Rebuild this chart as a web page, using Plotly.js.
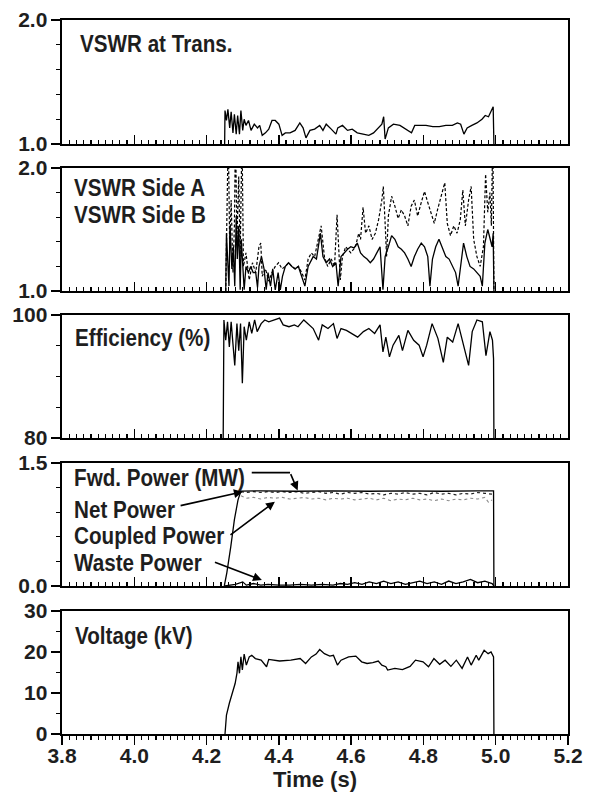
<!DOCTYPE html>
<html><head><meta charset="utf-8">
<script src="https://cdn.plot.ly/plotly-3.0.1.min.js"></script>
<style>
html,body{margin:0;padding:0;background:#fff}
#chart{width:595px;height:809px}
#chart .annotation-text{transform-box:fill-box;transform-origin:0 50%;transform:scaleX(0.86)}
</style>
</head><body><div id="chart"></div>
<script>
// ---- Panel 1: VSWR at transmitter
const tTrans = [4.250,4.251,4.255,4.259,4.264,4.268,4.273,4.277,4.282,4.286,4.291,4.295,4.300,4.304,4.309,4.316,4.323,4.332,4.341,4.347,4.354,4.363,4.372,4.381,4.390,4.400,4.409,4.418,4.431,4.445,4.458,4.467,4.475,4.486,4.499,4.513,4.522,4.531,4.545,4.558,4.563,4.576,4.590,4.603,4.617,4.631,4.649,4.662,4.676,4.685,4.690,4.694,4.703,4.717,4.735,4.753,4.767,4.776,4.790,4.807,4.826,4.844,4.862,4.880,4.894,4.903,4.912,4.921,4.934,4.948,4.962,4.971,4.980,4.989,4.993,4.995];
const vswrTrans = [1.00,1.27,1.19,1.28,1.13,1.26,1.09,1.24,1.08,1.23,1.08,1.27,1.11,1.20,1.15,1.19,1.11,1.16,1.13,1.15,1.07,1.09,1.12,1.19,1.19,1.16,1.07,1.09,1.09,1.11,1.17,1.13,1.05,1.11,1.12,1.15,1.11,1.16,1.12,1.08,1.13,1.15,1.11,1.12,1.09,1.08,1.07,1.09,1.13,1.16,1.22,1.04,1.13,1.16,1.15,1.12,1.09,1.15,1.15,1.15,1.14,1.14,1.15,1.15,1.17,1.16,1.08,1.13,1.15,1.17,1.20,1.23,1.22,1.27,1.30,1.00];

// ---- Panel 2: VSWR side A (dashed) and side B (solid)
const tSideA = [4.253,4.256,4.260,4.264,4.268,4.273,4.277,4.280,4.284,4.289,4.293,4.298,4.302,4.309,4.318,4.327,4.336,4.345,4.350,4.354,4.363,4.372,4.381,4.390,4.399,4.409,4.418,4.427,4.436,4.445,4.454,4.463,4.472,4.481,4.490,4.499,4.508,4.517,4.526,4.535,4.545,4.554,4.561,4.564,4.570,4.576,4.585,4.599,4.612,4.621,4.626,4.633,4.640,4.649,4.658,4.667,4.676,4.685,4.689,4.694,4.698,4.703,4.712,4.721,4.730,4.739,4.748,4.757,4.766,4.775,4.784,4.794,4.803,4.812,4.821,4.830,4.839,4.848,4.859,4.866,4.875,4.884,4.893,4.902,4.909,4.916,4.925,4.932,4.939,4.948,4.957,4.966,4.972,4.978,4.984,4.988,4.992,4.995];
const vswrSideA = [1.00,1.53,2.30,1.34,1.74,1.15,1.53,2.30,1.42,1.93,1.28,2.30,1.20,1.31,1.09,1.23,1.15,1.36,1.39,1.12,1.18,1.08,1.15,1.20,1.23,1.18,1.20,1.23,1.20,1.18,1.20,1.15,1.09,1.26,1.31,1.28,1.42,1.53,1.28,1.20,1.26,1.20,1.62,1.42,1.09,1.28,1.36,1.31,1.36,1.47,1.42,1.68,1.47,1.53,1.42,1.47,1.58,1.74,1.85,1.55,1.28,1.61,1.77,1.69,1.59,1.66,1.61,1.53,1.69,1.74,1.61,1.72,1.81,1.72,1.64,1.55,1.66,1.77,1.88,1.55,1.45,1.53,1.47,1.58,1.82,1.53,1.74,1.85,1.42,1.28,1.20,1.36,1.95,1.64,1.80,1.53,2.30,1.00];
const tSideB = [4.253,4.255,4.258,4.262,4.265,4.270,4.274,4.278,4.282,4.285,4.289,4.293,4.296,4.300,4.304,4.309,4.316,4.322,4.329,4.336,4.341,4.345,4.352,4.359,4.365,4.370,4.377,4.383,4.390,4.398,4.404,4.410,4.418,4.427,4.436,4.445,4.454,4.463,4.472,4.481,4.495,4.504,4.515,4.522,4.531,4.540,4.549,4.558,4.564,4.572,4.581,4.590,4.599,4.608,4.617,4.626,4.635,4.644,4.653,4.662,4.671,4.680,4.688,4.694,4.703,4.712,4.721,4.730,4.739,4.748,4.757,4.766,4.775,4.784,4.794,4.803,4.812,4.818,4.825,4.834,4.843,4.852,4.862,4.871,4.880,4.889,4.896,4.905,4.911,4.920,4.929,4.939,4.948,4.957,4.963,4.970,4.978,4.984,4.990,4.993,4.995];
const vswrSideB = [1.00,1.47,1.28,1.04,1.53,1.18,1.36,1.04,1.61,1.26,1.53,1.01,1.42,1.23,1.01,1.20,1.15,1.20,1.15,1.15,1.03,1.20,1.28,1.18,1.01,1.15,1.04,1.18,1.01,1.15,1.01,1.12,1.20,1.23,1.20,1.18,1.20,1.12,1.04,1.20,1.28,1.26,1.47,1.28,1.23,1.26,1.20,1.23,1.04,1.28,1.31,1.34,1.36,1.35,1.39,1.31,1.28,1.26,1.23,1.26,1.31,1.36,1.01,1.28,1.36,1.45,1.42,1.36,1.34,1.31,1.26,1.20,1.28,1.34,1.39,1.36,1.28,1.04,1.26,1.36,1.42,1.36,1.28,1.26,1.20,1.15,1.04,1.28,1.39,1.28,1.20,1.18,1.15,1.12,1.04,1.39,1.50,1.42,1.36,1.47,1.00];

// ---- Panel 3: Efficiency (%)
const tEff = [4.246,4.247,4.248,4.253,4.258,4.263,4.268,4.273,4.278,4.284,4.289,4.294,4.299,4.304,4.310,4.318,4.325,4.333,4.340,4.351,4.361,4.372,4.387,4.402,4.412,4.428,4.443,4.453,4.469,4.479,4.495,4.510,4.520,4.536,4.551,4.561,4.572,4.587,4.603,4.618,4.634,4.649,4.665,4.680,4.688,4.696,4.706,4.716,4.732,4.742,4.757,4.773,4.788,4.799,4.809,4.824,4.840,4.855,4.866,4.881,4.896,4.912,4.925,4.935,4.948,4.963,4.973,4.984,4.991,4.994,4.995];
const efficiency = [80,99.0,99.2,95.9,98.9,94.8,98.9,95.3,91.8,98.6,94.2,98.6,88.9,98.1,95.9,98.9,97.0,99.2,97.3,98.6,99.2,98.9,99.2,99.5,98.4,98.1,98.4,98.1,99.2,98.6,97.8,95.9,98.4,97.8,98.6,96.2,97.8,97.5,97.0,96.4,97.3,97.8,97.0,98.4,94.0,96.4,93.2,95.1,96.7,94.2,97.5,95.9,95.1,93.2,95.1,98.6,96.2,92.3,96.4,95.6,98.6,95.1,91.8,97.3,99.2,98.9,93.4,97.3,95.9,92.9,80];

// ---- Panel 4: Powers (MW)
const tFwd = [4.249,4.256,4.267,4.277,4.287,4.295,4.350,4.450,4.550,4.650,4.750,4.850,4.950,4.994,4.995];
const fwdPower = [0,0.16,0.48,0.81,1.05,1.157,1.16,1.155,1.16,1.155,1.16,1.155,1.16,1.16,0];
const tNet = [4.295,4.31,4.33,4.35,4.37,4.39,4.41,4.43,4.45,4.47,4.49,4.51,4.53,4.55,4.57,4.59,4.61,4.63,4.65,4.67,4.69,4.71,4.73,4.75,4.77,4.79,4.81,4.83,4.85,4.87,4.89,4.91,4.93,4.95,4.97,4.99];
const netPower = [1.15,1.14,1.15,1.14,1.15,1.14,1.15,1.14,1.15,1.13,1.14,1.15,1.13,1.14,1.12,1.14,1.13,1.14,1.12,1.13,1.11,1.13,1.12,1.14,1.12,1.13,1.11,1.14,1.12,1.13,1.11,1.13,1.12,1.14,1.13,1.12];
const tCoupled = [4.295,4.31,4.33,4.35,4.37,4.39,4.41,4.43,4.45,4.47,4.49,4.51,4.53,4.55,4.57,4.59,4.61,4.63,4.65,4.67,4.69,4.71,4.73,4.75,4.77,4.79,4.81,4.83,4.85,4.87,4.89,4.91,4.93,4.95,4.97,4.98,4.99];
const coupledPower = [1.10,1.07,1.08,1.06,1.08,1.07,1.08,1.06,1.07,1.08,1.06,1.07,1.05,1.07,1.06,1.07,1.05,1.06,1.07,1.05,1.07,1.04,1.06,1.05,1.07,1.05,1.06,1.04,1.06,1.04,1.06,1.05,1.07,1.06,1.08,1.02,1.05];
const tWaste = [4.25,4.28,4.30,4.31,4.33,4.35,4.37,4.40,4.43,4.46,4.49,4.52,4.55,4.57,4.59,4.61,4.63,4.65,4.67,4.69,4.71,4.73,4.75,4.77,4.79,4.81,4.83,4.85,4.87,4.89,4.91,4.93,4.95,4.97,4.99,4.995];
const wastePower = [0,0.02,0.05,0.01,0.03,0.01,0.02,0.01,0.01,0.02,0.01,0.02,0.01,0.03,0.02,0.04,0.02,0.05,0.03,0.06,0.03,0.05,0.02,0.04,0.06,0.03,0.05,0.02,0.06,0.03,0.05,0.08,0.04,0.06,0.03,0];

// ---- Panel 5: Voltage (kV)
const tVolt = [4.251,4.255,4.263,4.274,4.279,4.284,4.287,4.291,4.295,4.299,4.304,4.310,4.318,4.325,4.335,4.351,4.366,4.372,4.402,4.433,4.459,4.474,4.490,4.503,4.513,4.526,4.541,4.551,4.562,4.572,4.593,4.613,4.629,4.644,4.660,4.675,4.685,4.696,4.701,4.721,4.742,4.763,4.778,4.799,4.814,4.829,4.845,4.860,4.876,4.891,4.907,4.922,4.932,4.946,4.953,4.968,4.979,4.987,4.994,4.995];
const voltage = [0,4.6,7.5,10.7,12.3,14.8,17.6,14.8,18.8,15.6,19.5,16.8,18.8,19.2,18.4,18.0,16.4,18.2,17.8,18.0,18.4,17.2,18.8,19.5,20.6,19.6,19.0,19.2,16.8,18.0,18.8,19.0,17.6,17.2,17.4,17.8,16.8,16.4,15.6,16.0,15.7,16.5,18.0,17.6,16.4,18.4,17.0,18.0,16.5,18.0,16.0,18.8,16.8,19.2,18.0,20.4,19.6,20.0,18.8,0];

// ---- Labels
const panelLabels = ['VSWR at Trans.', 'VSWR Side A', 'VSWR Side B', 'Efficiency (%)', 'Fwd. Power (MW)', 'Net Power', 'Coupled Power', 'Waste Power', 'Voltage (kV)'];
const xTitle = 'Time (s)';

const FONT = '"Liberation Sans", Arial, Helvetica, sans-serif';
const INK = '#1e1e1e';

function line(x, y, xa, ya, extra) {
  return Object.assign({type: 'scatter', mode: 'lines', x: x, y: y, xaxis: xa, yaxis: ya,
    line: {color: '#000', width: 1.3}, hoverinfo: 'skip', showlegend: false}, extra || {});
}

const data = [
  line(tTrans, vswrTrans, 'x', 'y'),
  line(tSideA, vswrSideA, 'x2', 'y2', {line: {color: '#000', width: 1.2, dash: '3px,2px'}}),
  line(tSideB, vswrSideB, 'x2', 'y2'),
  line(tEff, efficiency, 'x3', 'y3'),
  line(tCoupled, coupledPower, 'x4', 'y4', {line: {color: '#8a8a8a', width: 1.1, dash: 'dot'}}),
  line(tNet, netPower, 'x4', 'y4', {line: {color: '#222', width: 1.2, dash: 'dot'}}),
  line(tFwd, fwdPower, 'x4', 'y4'),
  line(tWaste, wastePower, 'x4', 'y4'),
  line(tVolt, voltage, 'x5', 'y5')
];

const tickFont = {family: FONT, size: 21, color: INK, weight: 'bold'};
const labelFont = {family: FONT, size: 24, color: INK, weight: 'bold'};

function xAxis(anchor, bottom) {
  const ax = {
    anchor: anchor, range: [3.8, 5.2], tick0: 3.8, dtick: 0.2,
    ticks: bottom ? 'outside' : 'inside', ticklen: 9, tickwidth: 1.5, tickcolor: '#000',
    minor: {ticks: bottom ? 'outside' : 'inside', dtick: 0.02, tick0: 3.8, ticklen: 4, tickwidth: 1.2, tickcolor: '#000'},
    showticklabels: !!bottom, tickformat: '.1f', tickfont: tickFont,
    showline: true, linecolor: '#000', linewidth: 2.4, mirror: true,
    showgrid: false, zeroline: false, fixedrange: true
  };
  if (bottom) ax.ticklabelstandoff = -8;
  return ax;
}
function yAxis(anchor, domain, range, dtick, minorDtick, fmt) {
  return {
    anchor: anchor, domain: domain, range: range, tick0: range[0], dtick: dtick,
    ticks: 'outside', ticklen: 9, tickwidth: 1.5, tickcolor: '#000',
    minor: {ticks: 'outside', dtick: minorDtick, tick0: range[0], ticklen: 4, tickwidth: 1.2, tickcolor: '#000'},
    tickformat: fmt, tickfont: tickFont, ticklabelstandoff: -1,
    showline: true, linecolor: '#000', linewidth: 2.4, mirror: true,
    showgrid: false, zeroline: false, fixedrange: true
  };
}

const x5 = xAxis('y5', true);
x5.title = {text: xTitle, font: {family: FONT, size: 22, color: INK, weight: 'bold'}, standoff: 2};

function txt(x, y, xr, yr, s) {
  return {x: x, y: y, xref: xr, yref: yr, text: s, showarrow: false, xanchor: 'left', yanchor: 'middle', font: labelFont};
}
function arrow(x0, y0, x1, y1) {
  return {x: x1, y: y1, ax: x0, ay: y0, xref: 'x4', yref: 'y4', axref: 'x4', ayref: 'y4', text: '',
    showarrow: true, arrowhead: 2, arrowsize: 1.1, arrowwidth: 1.6, arrowcolor: '#000'};
}

const layout = {
  width: 595, height: 809,
  margin: {l: 62, r: 27, t: 20, b: 75},
  paper_bgcolor: '#fff', plot_bgcolor: '#fff',
  font: {family: FONT, color: INK},
  showlegend: false,
  xaxis: xAxis('y'), xaxis2: xAxis('y2'), xaxis3: xAxis('y3'), xaxis4: xAxis('y4'), xaxis5: x5,
  yaxis: yAxis('x', [0.8263, 1.0], [1, 2], 1, 0.2, '.1f'),
  yaxis2: yAxis('x2', [0.6204, 0.7927], [1, 2], 1, 0.2, '.1f'),
  yaxis3: yAxis('x3', [0.4146, 0.5868], [80, 100], 20, 5, 'd'),
  yaxis4: yAxis('x4', [0.2073, 0.3796], [0, 1.5], 1.5, 0.3, '.1f'),
  yaxis5: yAxis('x5', [0, 0.1723], [0, 30], 10, 5, 'd'),
  annotations: [
    txt(3.843, 1.81, 'x', 'y', panelLabels[0]),
    txt(3.828, 1.845, 'x2', 'y2', panelLabels[1]),
    txt(3.828, 1.625, 'x2', 'y2', panelLabels[2]),
    txt(3.830, 96.4, 'x3', 'y3', panelLabels[3]),
    txt(3.828, 1.32, 'x4', 'y4', panelLabels[4]),
    txt(3.828, 0.93, 'x4', 'y4', panelLabels[5]),
    txt(3.828, 0.61, 'x4', 'y4', panelLabels[6]),
    txt(3.828, 0.29, 'x4', 'y4', panelLabels[7]),
    txt(3.830, 24.1, 'x5', 'y5', panelLabels[8]),
    arrow(4.431, 1.382, 4.452, 1.165),
    arrow(4.124, 0.976, 4.300, 1.150),
    arrow(4.262, 0.610, 4.389, 1.028),
    arrow(4.219, 0.296, 4.353, 0.073)
  ],
  shapes: [
    {type: 'line', xref: 'x4', yref: 'y4', x0: 4.325, y0: 1.382, x1: 4.431, y1: 1.382, line: {color: '#000', width: 1.6}}
  ]
};

Plotly.newPlot('chart', data, layout, {staticPlot: true, displayModeBar: false});
</script>
</body></html>
